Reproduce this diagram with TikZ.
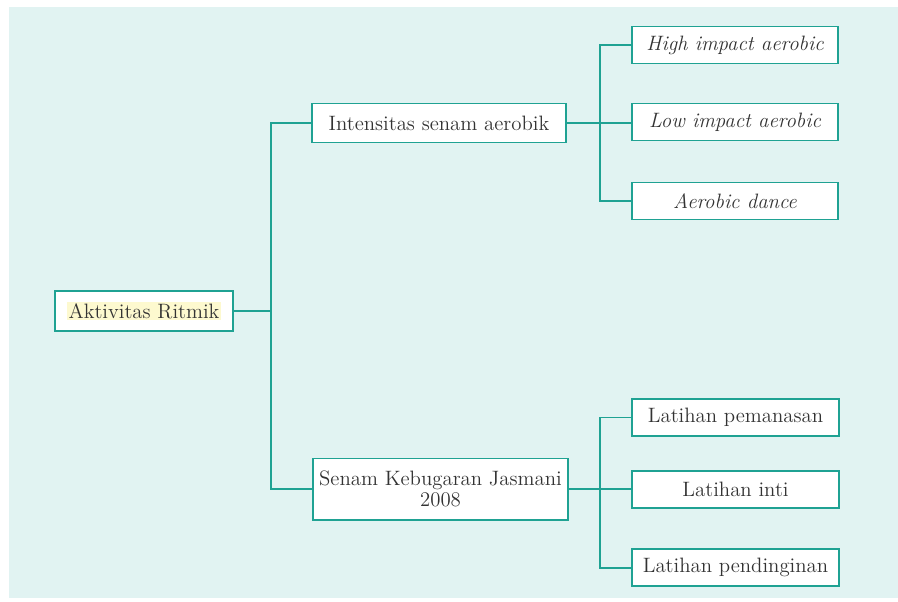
\documentclass[tikz,border=0pt]{standalone}
\usepackage{tikz}
\usetikzlibrary{positioning,calc}
\definecolor{tosca}{HTML}{1FA293}
\definecolor{latar}{HTML}{E1F3F2}
\definecolor{stabilo}{HTML}{FDF9CF}

\begin{document}
\begin{tikzpicture}[x=0.025cm, y=-0.025cm, every node/.style={font=\fontsize{14.8}{17}\selectfont, text=black!80}]
    \tikzset{KotakStyle/.style = {draw=tosca, line width=1.4pt, fill=white,
        inner sep=0pt, align=center},
      GarisStyle/.style = {draw=tosca, line width=1.4pt}}
    \useasboundingbox (0,0) rectangle (898,601);
    \fill[latar] (9,7) rectangle (898,598);
    % level 0 dan 1
    \node[KotakStyle, minimum width=4.45cm, minimum height=1cm] (akt) at (144,311)
      {\setlength{\fboxsep}{1pt}\colorbox{stabilo}{Aktivitas Ritmik}};
    \node[KotakStyle, minimum width=6.35cm, minimum height=0.975cm] (ins) at (439,123) {Intensitas senam aerobik};
    \node[KotakStyle, minimum width=6.375cm, minimum height=1.525cm] (skj) at (440.5,489) {Senam Kebugaran Jasmani\\[-2pt]2008};
    % level 2
    \node[KotakStyle, minimum width=5.15cm, minimum height=0.925cm] (hia) at (735,45) {\itshape High impact aerobic};
    \node[KotakStyle, minimum width=5.15cm, minimum height=0.925cm] (loa) at (735,122) {\itshape Low impact aerobic};
    \node[KotakStyle, minimum width=5.15cm, minimum height=0.925cm] (aed) at (735,201) {\itshape Aerobic dance};
    \node[KotakStyle, minimum width=5.175cm, minimum height=0.925cm] (lpm) at (735.5,417.5) {Latihan pemanasan};
    \node[KotakStyle, minimum width=5.175cm, minimum height=0.925cm] (lin) at (735.5,489.5) {Latihan inti};
    \node[KotakStyle, minimum width=5.175cm, minimum height=0.925cm] (lpd) at (735.5,567.5) {Latihan pendinginan};
    \coordinate (c0) at (271,311);
    \coordinate (c1) at (600,123);
    \coordinate (c2) at (600,489);
    \draw[GarisStyle] (akt.east) -- (c0);
    \draw[GarisStyle] (c0) |- (ins.west);
    \draw[GarisStyle] (c0) |- (skj.west);
    \draw[GarisStyle] (ins.east) -- (c1);
    \draw[GarisStyle] (c1) |- (hia.west);
    \draw[GarisStyle] (c1) |- (aed.west);
    \draw[GarisStyle] (c1) -- (c1 -| loa.west);
    \draw[GarisStyle] (skj.east) -- (c2);
    \draw[GarisStyle] (c2) |- (lpm.west);
    \draw[GarisStyle] (c2) |- (lpd.west);
    \draw[GarisStyle] (c2) -- (c2 -| lin.west);
  \end{tikzpicture}
\end{document}
